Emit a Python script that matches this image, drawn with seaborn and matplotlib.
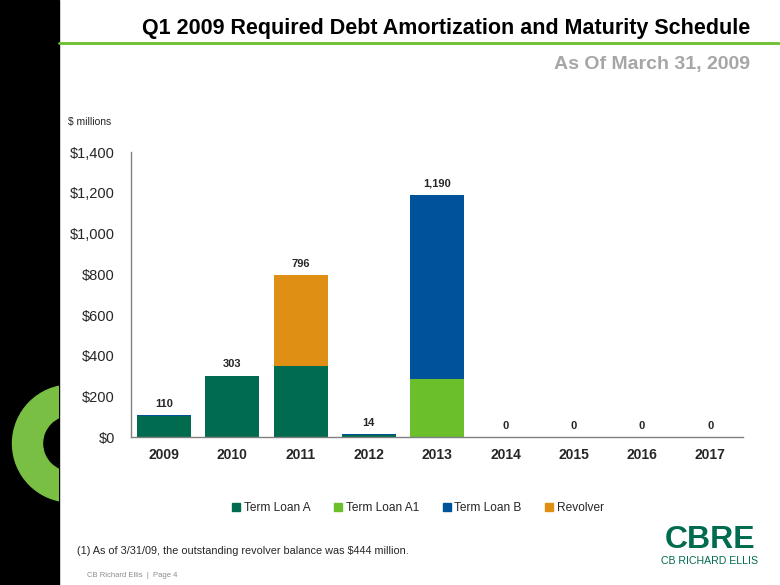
import numpy as np
import pandas as pd
import matplotlib
matplotlib.use("Agg")
import matplotlib.pyplot as plt
import matplotlib.patches as mpatches
import seaborn as sns

years = ["2009", "2010", "2011", "2012", "2013", "2014", "2015", "2016", "2017"]
term_loan_a = [105, 300, 352, 9, 0, 0, 0, 0, 0]
term_loan_a1 = [0, 0, 0, 0, 288, 0, 0, 0, 0]
term_loan_b = [5, 3, 0, 5, 902, 0, 0, 0, 0]
revolver = [0, 0, 444, 0, 0, 0, 0, 0, 0]
totals = ["110", "303", "796", "14", "1,190", "0", "0", "0", "0"]
y_ticks = [0, 200, 400, 600, 800, 1000, 1200, 1400]

series = ["Term Loan A", "Term Loan A1", "Term Loan B", "Revolver"]
colors = ["#006B4F", "#6ABF2A", "#00539B", "#DF8F14"]

sns.set_theme(style="white")
plt.rcParams["font.family"] = ["Liberation Sans", "DejaVu Sans"]

fig = plt.figure(figsize=(7.8, 5.85), dpi=100)
fig.patch.set_facecolor("white")

# left black band, ring and title rule
deco = fig.add_axes([0, 0, 1, 1], zorder=-1)
deco.set_xlim(0, 780)
deco.set_ylim(585, 0)
deco.axis("off")
deco.add_patch(mpatches.Rectangle((0, 0), 59, 585, color="black"))
ring = mpatches.Wedge((71, 443.5), 58.5, 0, 360, width=30, color="#78BF43")
deco.add_patch(ring)
ring.set_clip_path(mpatches.Rectangle((0, 0), 59, 585, transform=deco.transData))
deco.plot([59, 780], [43, 43], color="#6ABF2A", lw=2)

fig.text(0.962, 0.951, "Q1 2009 Required Debt Amortization and Maturity Schedule",
         ha="right", va="center", fontsize=15.5, fontweight="bold", color="black")
fig.text(0.962, 0.889, "As Of March 31, 2009", ha="right", va="center",
         fontsize=14, fontweight="bold", color="#A6A6A6")
fig.text(0.087, 0.791, "$ millions", ha="left", va="center", fontsize=7.5)

ax = fig.add_axes([0.168, 0.2525, 0.785, 0.4875])
df = pd.DataFrame({"year": years, "Term Loan A": term_loan_a, "Term Loan A1": term_loan_a1,
                   "Term Loan B": term_loan_b, "Revolver": revolver})
bottom = np.zeros(len(years))
for name, col in zip(series, colors):
    sns.barplot(data=df, x="year", y=name, color=col, bottom=bottom, width=0.79,
                saturation=1, ax=ax, linewidth=0)
    bottom = bottom + df[name].to_numpy()

for i, lab in enumerate(totals):
    ax.annotate(lab, (i, bottom[i]), xytext=(0, 8), textcoords="offset points",
                ha="center", va="center", fontsize=8, fontweight="bold")

ax.set_xlim(-0.485, len(years) - 0.515)
ax.set_ylim(0, 1400)
ax.set_yticks(y_ticks)
ax.set_yticklabels([f"${v:,}" for v in y_ticks], fontsize=10.5)
ax.set_xlabel("")
ax.set_ylabel("")
ax.tick_params(axis="x", labelsize=10, pad=8, length=0)
ax.tick_params(axis="y", pad=11.5, length=0)
for t in ax.get_xticklabels():
    t.set_fontweight("bold")
for s in ["top", "right"]:
    ax.spines[s].set_visible(False)
for s in ["left", "bottom"]:
    ax.spines[s].set_color("#808080")
    ax.spines[s].set_linewidth(1)

handles = [mpatches.Patch(color=c, label=n) for n, c in zip(series, colors)]
fig.legend(handles=handles, loc="center", bbox_to_anchor=(0.536, 0.131), ncol=4,
           frameon=False, fontsize=8.6, handlelength=0.65, handleheight=0.65,
           handletextpad=0.3, columnspacing=2.0)

fig.text(0.099, 0.058, "(1) As of 3/31/09, the outstanding revolver balance was $444 million.",
         ha="left", va="center", fontsize=7.8)
fig.text(0.112, 0.017, "CB Richard Ellis  |  Page 4", ha="left", va="center",
         fontsize=5.5, color="#8C8C8C")

fig.text(0.910, 0.077, "CBRE", ha="center", va="center", fontsize=23,
         fontweight="bold", color="#006B4F")
fig.text(0.910, 0.041, "CB RICHARD ELLIS", ha="center", va="center", fontsize=7.6,
         color="#006B4F")

fig.savefig("out.png", dpi=100)
